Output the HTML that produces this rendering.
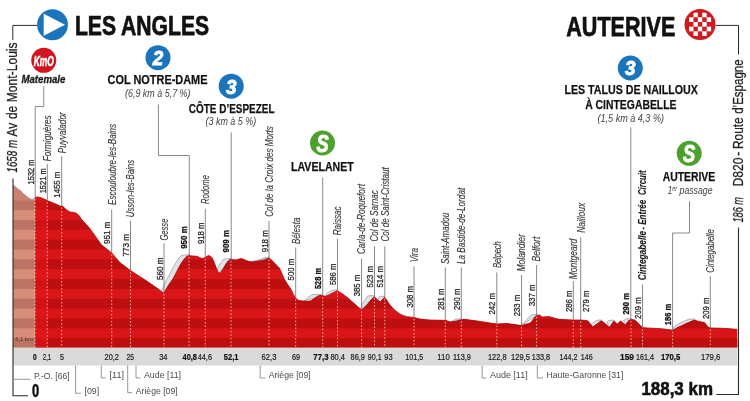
<!DOCTYPE html>
<html lang="fr">
<head>
<meta charset="utf-8">
<title>Les Angles – Auterive : profil de l’étape (188,3 km)</title>
<style>
html,body{margin:0;padding:0;background:#fff;}
body{width:750px;height:401px;overflow:hidden;font-family:"Liberation Sans",sans-serif;}
svg{display:block;will-change:transform;}
</style>
</head>
<body>
<svg width="750" height="401" viewBox="0 0 750 401">
<defs>
<clipPath id="cn"><polygon points="13.0,185.0 15.0,186.6 18.0,189.0 21.5,191.5 22.5,193.0 25.0,195.0 28.0,197.5 31.0,199.2 32.7,199.7 34.0,198.4 35.0,197.4 35,347.5 13,347.5"/></clipPath>
<clipPath id="cp"><polygon points="35.0,197.4 37.0,197.0 40.0,197.4 43.0,198.6 47.3,200.6 52.0,202.6 57.0,204.6 60.5,206.3 61.7,205.8 63.0,206.6 66.0,209.5 70.0,212.0 73.0,212.3 76.0,213.0 79.0,215.5 82.0,220.0 89.0,227.5 93.3,233.3 101.3,244.7 111.7,252.9 120.0,262.7 130.5,270.6 146.7,281.0 158.7,289.3 163.6,293.3 168.0,286.0 173.3,278.3 178.7,267.7 182.0,262.0 185.3,257.7 187.0,256.2 188.9,255.6 193.0,256.0 197.3,256.3 199.5,257.4 201.3,258.3 203.5,258.2 205.3,257.5 207.0,256.2 208.7,255.6 210.5,256.2 212.3,258.0 214.0,262.0 216.0,267.2 217.7,271.3 219.3,273.3 221.0,271.8 223.3,268.5 225.3,265.0 227.3,262.0 229.0,260.2 231.0,259.3 233.5,259.7 236.0,260.0 239.0,259.0 241.3,258.4 244.0,259.6 246.7,260.7 249.5,261.6 252.0,262.0 255.5,261.6 258.7,261.0 261.5,260.6 264.0,260.0 266.7,259.0 269.0,258.0 271.0,259.5 274.7,263.3 279.3,268.0 281.5,272.5 284.0,278.7 287.5,284.3 291.3,290.0 293.5,294.5 295.7,298.0 297.5,299.7 300.0,300.7 303.5,301.0 306.7,301.2 309.5,301.1 311.3,300.5 313.5,299.0 316.0,297.3 318.0,296.0 320.0,295.3 322.7,295.7 324.8,296.0 326.7,296.0 329.3,294.8 332.0,293.3 334.7,292.0 337.4,290.7 340.0,292.3 342.7,294.0 345.3,296.0 348.0,298.0 351.3,301.0 354.7,304.0 358.0,307.0 361.6,309.7 364.0,307.8 366.7,305.3 369.3,302.0 372.0,298.7 374.3,296.7 376.7,299.0 378.5,300.8 380.0,302.0 381.6,300.6 383.2,298.6 384.7,297.3 386.6,299.8 388.7,303.3 391.0,306.2 393.3,308.7 396.6,311.6 400.0,314.0 403.3,315.6 406.7,316.7 410.3,317.1 414.0,317.4 417.0,318.3 420.0,319.0 424.5,319.6 429.3,320.0 437.0,320.2 445.3,320.3 448.0,321.2 450.7,322.0 453.5,321.6 456.0,321.2 458.5,320.4 461.3,319.7 464.0,319.3 472.0,320.3 480.0,321.4 488.0,322.7 496.7,324.0 501.5,323.8 506.7,323.4 510.5,324.0 514.7,324.6 518.0,325.0 521.6,325.5 526.0,324.2 530.3,323.0 532.0,321.0 533.5,319.0 535.0,316.9 536.6,315.4 539.3,315.0 541.0,316.0 542.7,317.0 546.0,316.8 549.3,316.6 554.0,318.0 558.7,319.3 566.0,319.7 573.3,320.0 580.7,320.0 584.5,320.3 588.0,321.0 590.4,324.0 592.7,327.0 597.0,324.0 601.3,320.8 603.3,322.0 605.3,323.7 607.3,325.6 609.3,327.6 611.6,324.4 614.0,321.0 615.7,322.4 617.3,324.0 619.0,322.4 620.7,321.0 623.0,323.0 625.3,325.0 627.0,322.8 628.7,320.6 631.3,319.4 634.7,320.0 636.7,321.7 638.7,323.7 640.7,325.8 642.7,327.7 648.0,328.0 653.3,328.3 658.5,328.6 664.0,329.0 668.4,329.5 672.7,330.2 675.5,328.6 678.7,327.0 682.3,325.4 686.0,323.6 690.3,321.8 694.7,320.0 696.7,320.8 698.7,321.6 701.4,321.9 704.0,322.2 705.7,324.0 707.3,326.3 708.6,327.3 710.5,328.0 716.6,328.1 723.3,328.3 730.6,328.8 737.3,329.4 737.3,347.5 35,347.5"/></clipPath>
</defs>
<rect width="750" height="401" fill="#ffffff"/>
<rect x="13" y="347.5" width="724.3" height="18.0" fill="#dadada"/>
<polygon points="163.6,293.3 161.6,290.6 165.5,282.0 170.0,273.7 176.0,262.3 178.8,258.2 181.3,255.4 188.9,254.6 188.9,255.6" fill="#e0e2e4" stroke="#98a0a8" stroke-width="0.75" stroke-linejoin="round"/>
<polygon points="219.3,273.3 217.6,270.0 218.4,266.4 221.0,262.5 224.0,259.0 231.0,258.4 231.0,259.3" fill="#e0e2e4" stroke="#98a0a8" stroke-width="0.75" stroke-linejoin="round"/>
<polygon points="250.0,261.8 255.0,261.0 261.3,259.1 264.5,257.6 269.0,257.0 269.0,258.0" fill="#e0e2e4" stroke="#98a0a8" stroke-width="0.75" stroke-linejoin="round"/>
<polygon points="303.5,301.0 306.0,299.3 309.0,296.8 312.0,294.7 315.0,294.3 322.7,294.6 322.7,295.7" fill="#e0e2e4" stroke="#98a0a8" stroke-width="0.75" stroke-linejoin="round"/>
<polygon points="326.7,296.0 326.0,294.0 329.0,292.0 332.0,290.3 337.4,289.7 337.4,290.7" fill="#e0e2e4" stroke="#98a0a8" stroke-width="0.75" stroke-linejoin="round"/>
<polygon points="361.6,309.7 361.4,306.5 362.4,304.2 364.7,300.3 367.3,296.6 369.0,295.7 374.3,295.7 374.3,296.7" fill="#e0e2e4" stroke="#98a0a8" stroke-width="0.75" stroke-linejoin="round"/>
<polygon points="380.0,302.0 378.4,299.4 378.7,297.3 380.0,296.4 384.7,296.3 384.7,297.3" fill="#e0e2e4" stroke="#98a0a8" stroke-width="0.75" stroke-linejoin="round"/>
<polygon points="450.7,322.0 453.0,320.6 456.0,319.2 461.3,318.8 461.3,319.7" fill="#e0e2e4" stroke="#98a0a8" stroke-width="0.75" stroke-linejoin="round"/>
<polygon points="521.6,325.5 522.4,324.0 523.6,323.2 527.0,319.4 530.7,315.6 532.0,314.7 536.6,314.4 536.6,315.4" fill="#e0e2e4" stroke="#98a0a8" stroke-width="0.75" stroke-linejoin="round"/>
<polygon points="592.7,327.0 591.5,324.7 592.2,323.5 594.7,321.7 597.3,320.2 601.3,319.9 601.3,320.8" fill="#e0e2e4" stroke="#98a0a8" stroke-width="0.75" stroke-linejoin="round"/>
<polygon points="609.3,327.6 607.6,324.0 607.3,321.6 609.0,320.4 614.0,320.1 614.0,321.0" fill="#e0e2e4" stroke="#98a0a8" stroke-width="0.75" stroke-linejoin="round"/>
<polygon points="625.3,325.0 623.7,322.0 624.0,320.2 626.5,318.8 631.3,318.5 631.3,319.4" fill="#e0e2e4" stroke="#98a0a8" stroke-width="0.75" stroke-linejoin="round"/>
<polygon points="672.7,330.2 672.9,328.0 674.0,326.8 680.0,323.1 686.0,320.3 689.3,319.1 694.7,319.0 694.7,320.0" fill="#e0e2e4" stroke="#98a0a8" stroke-width="0.75" stroke-linejoin="round"/>
<g clip-path="url(#cn)">
<rect x="13" y="170" width="22" height="177.5" fill="#d78d78"/>
<rect x="13" y="338.15" width="22" height="9.85" fill="#bc7363"/>
<rect x="13" y="318.45" width="22" height="9.85" fill="#bc7363"/>
<rect x="13" y="298.75" width="22" height="9.85" fill="#bc7363"/>
<rect x="13" y="279.05" width="22" height="9.85" fill="#bc7363"/>
<rect x="13" y="259.35" width="22" height="9.85" fill="#bc7363"/>
<rect x="13" y="239.65" width="22" height="9.85" fill="#bc7363"/>
<rect x="13" y="219.95" width="22" height="9.85" fill="#bc7363"/>
<rect x="13" y="200.25" width="22" height="9.85" fill="#bc7363"/>
<rect x="13" y="180.55" width="22" height="9.85" fill="#bc7363"/>
<rect x="13" y="170" width="22" height="30.25" fill="#cb836f"/>
</g>
<g clip-path="url(#cp)">
<rect x="35" y="170" width="703.3" height="177.5" fill="#d91518"/>
<rect x="35" y="338.15" width="703.3" height="9.85" fill="#bd0f10"/>
<rect x="35" y="318.45" width="703.3" height="9.85" fill="#bd0f10"/>
<rect x="35" y="298.75" width="703.3" height="9.85" fill="#bd0f10"/>
<rect x="35" y="279.05" width="703.3" height="9.85" fill="#bd0f10"/>
<rect x="35" y="259.35" width="703.3" height="9.85" fill="#bd0f10"/>
<rect x="35" y="239.65" width="703.3" height="9.85" fill="#bd0f10"/>
<rect x="35" y="219.95" width="703.3" height="9.85" fill="#bd0f10"/>
<rect x="35" y="200.25" width="703.3" height="9.85" fill="#bd0f10"/>
<rect x="35" y="180.55" width="703.3" height="9.85" fill="#bd0f10"/>
</g>
<rect x="35" y="190" width="12.3" height="157.5" fill="#e2171b" opacity="0.55" clip-path="url(#cp)"/>
<polyline points="13.0,185.0 15.0,186.6 18.0,189.0 21.5,191.5 22.5,193.0 25.0,195.0 28.0,197.5 31.0,199.2 32.7,199.7 34.0,198.4 35.0,197.4" fill="none" stroke="#9a9a9a" stroke-width="0.8"/>
<polyline points="35.0,197.4 37.0,197.0 40.0,197.4 43.0,198.6 47.3,200.6 52.0,202.6 57.0,204.6 60.5,206.3 61.7,205.8 63.0,206.6 66.0,209.5 70.0,212.0 73.0,212.3 76.0,213.0 79.0,215.5 82.0,220.0 89.0,227.5 93.3,233.3 101.3,244.7 111.7,252.9 120.0,262.7 130.5,270.6 146.7,281.0 158.7,289.3 163.6,293.3 168.0,286.0 173.3,278.3 178.7,267.7 182.0,262.0 185.3,257.7 187.0,256.2 188.9,255.6 193.0,256.0 197.3,256.3 199.5,257.4 201.3,258.3 203.5,258.2 205.3,257.5 207.0,256.2 208.7,255.6 210.5,256.2 212.3,258.0 214.0,262.0 216.0,267.2 217.7,271.3 219.3,273.3 221.0,271.8 223.3,268.5 225.3,265.0 227.3,262.0 229.0,260.2 231.0,259.3 233.5,259.7 236.0,260.0 239.0,259.0 241.3,258.4 244.0,259.6 246.7,260.7 249.5,261.6 252.0,262.0 255.5,261.6 258.7,261.0 261.5,260.6 264.0,260.0 266.7,259.0 269.0,258.0 271.0,259.5 274.7,263.3 279.3,268.0 281.5,272.5 284.0,278.7 287.5,284.3 291.3,290.0 293.5,294.5 295.7,298.0 297.5,299.7 300.0,300.7 303.5,301.0 306.7,301.2 309.5,301.1 311.3,300.5 313.5,299.0 316.0,297.3 318.0,296.0 320.0,295.3 322.7,295.7 324.8,296.0 326.7,296.0 329.3,294.8 332.0,293.3 334.7,292.0 337.4,290.7 340.0,292.3 342.7,294.0 345.3,296.0 348.0,298.0 351.3,301.0 354.7,304.0 358.0,307.0 361.6,309.7 364.0,307.8 366.7,305.3 369.3,302.0 372.0,298.7 374.3,296.7 376.7,299.0 378.5,300.8 380.0,302.0 381.6,300.6 383.2,298.6 384.7,297.3 386.6,299.8 388.7,303.3 391.0,306.2 393.3,308.7 396.6,311.6 400.0,314.0 403.3,315.6 406.7,316.7 410.3,317.1 414.0,317.4 417.0,318.3 420.0,319.0 424.5,319.6 429.3,320.0 437.0,320.2 445.3,320.3 448.0,321.2 450.7,322.0 453.5,321.6 456.0,321.2 458.5,320.4 461.3,319.7 464.0,319.3 472.0,320.3 480.0,321.4 488.0,322.7 496.7,324.0 501.5,323.8 506.7,323.4 510.5,324.0 514.7,324.6 518.0,325.0 521.6,325.5 526.0,324.2 530.3,323.0 532.0,321.0 533.5,319.0 535.0,316.9 536.6,315.4 539.3,315.0 541.0,316.0 542.7,317.0 546.0,316.8 549.3,316.6 554.0,318.0 558.7,319.3 566.0,319.7 573.3,320.0 580.7,320.0 584.5,320.3 588.0,321.0 590.4,324.0 592.7,327.0 597.0,324.0 601.3,320.8 603.3,322.0 605.3,323.7 607.3,325.6 609.3,327.6 611.6,324.4 614.0,321.0 615.7,322.4 617.3,324.0 619.0,322.4 620.7,321.0 623.0,323.0 625.3,325.0 627.0,322.8 628.7,320.6 631.3,319.4 634.7,320.0 636.7,321.7 638.7,323.7 640.7,325.8 642.7,327.7 648.0,328.0 653.3,328.3 658.5,328.6 664.0,329.0 668.4,329.5 672.7,330.2 675.5,328.6 678.7,327.0 682.3,325.4 686.0,323.6 690.3,321.8 694.7,320.0 696.7,320.8 698.7,321.6 701.4,321.9 704.0,322.2 705.7,324.0 707.3,326.3 708.6,327.3 710.5,328.0 716.6,328.1 723.3,328.3 730.6,328.8 737.3,329.4" fill="none" stroke="#b00d0e" stroke-width="0.8"/>
<text x="24" y="341.3" font-family="'Liberation Sans', sans-serif" font-size="5.6" fill="#4e342d" text-anchor="middle" textLength="17.5" lengthAdjust="spacingAndGlyphs">6,1 km</text>
<line x1="35.0" y1="198.9" x2="35.0" y2="347.5" stroke="#ffd9d0" stroke-width="0.9" stroke-dasharray="1.6,1.9" opacity="0.85"/>
<line x1="47.3" y1="202.1" x2="47.3" y2="347.5" stroke="#ffd9d0" stroke-width="0.9" stroke-dasharray="1.6,1.9" opacity="0.85"/>
<line x1="61.7" y1="207.5" x2="61.7" y2="347.5" stroke="#ffd9d0" stroke-width="0.9" stroke-dasharray="1.6,1.9" opacity="0.85"/>
<line x1="111.7" y1="254.4" x2="111.7" y2="347.5" stroke="#ffd9d0" stroke-width="0.9" stroke-dasharray="1.6,1.9" opacity="0.85"/>
<line x1="130.5" y1="272.1" x2="130.5" y2="347.5" stroke="#ffd9d0" stroke-width="0.9" stroke-dasharray="1.6,1.9" opacity="0.85"/>
<line x1="164.0" y1="294.0" x2="164.0" y2="347.5" stroke="#ffd9d0" stroke-width="0.9" stroke-dasharray="1.6,1.9" opacity="0.85"/>
<line x1="189.0" y1="257.1" x2="189.0" y2="347.5" stroke="#ffd9d0" stroke-width="0.9" stroke-dasharray="1.6,1.9" opacity="0.85"/>
<line x1="205.3" y1="259.0" x2="205.3" y2="347.5" stroke="#ffd9d0" stroke-width="0.9" stroke-dasharray="1.6,1.9" opacity="0.85"/>
<line x1="231.0" y1="260.8" x2="231.0" y2="347.5" stroke="#ffd9d0" stroke-width="0.9" stroke-dasharray="1.6,1.9" opacity="0.85"/>
<line x1="269.0" y1="259.5" x2="269.0" y2="347.5" stroke="#ffd9d0" stroke-width="0.9" stroke-dasharray="1.6,1.9" opacity="0.85"/>
<line x1="295.7" y1="299.5" x2="295.7" y2="347.5" stroke="#ffd9d0" stroke-width="0.9" stroke-dasharray="1.6,1.9" opacity="0.85"/>
<line x1="322.7" y1="297.2" x2="322.7" y2="347.5" stroke="#ffd9d0" stroke-width="0.9" stroke-dasharray="1.6,1.9" opacity="0.85"/>
<line x1="337.5" y1="292.2" x2="337.5" y2="347.5" stroke="#ffd9d0" stroke-width="0.9" stroke-dasharray="1.6,1.9" opacity="0.85"/>
<line x1="361.6" y1="311.2" x2="361.6" y2="347.5" stroke="#ffd9d0" stroke-width="0.9" stroke-dasharray="1.6,1.9" opacity="0.85"/>
<line x1="374.5" y1="298.2" x2="374.5" y2="347.5" stroke="#ffd9d0" stroke-width="0.9" stroke-dasharray="1.6,1.9" opacity="0.85"/>
<line x1="384.8" y1="298.8" x2="384.8" y2="347.5" stroke="#ffd9d0" stroke-width="0.9" stroke-dasharray="1.6,1.9" opacity="0.85"/>
<line x1="414.0" y1="318.9" x2="414.0" y2="347.5" stroke="#ffd9d0" stroke-width="0.9" stroke-dasharray="1.6,1.9" opacity="0.85"/>
<line x1="445.3" y1="321.8" x2="445.3" y2="347.5" stroke="#ffd9d0" stroke-width="0.9" stroke-dasharray="1.6,1.9" opacity="0.85"/>
<line x1="461.3" y1="321.2" x2="461.3" y2="347.5" stroke="#ffd9d0" stroke-width="0.9" stroke-dasharray="1.6,1.9" opacity="0.85"/>
<line x1="496.8" y1="325.5" x2="496.8" y2="347.5" stroke="#ffd9d0" stroke-width="0.9" stroke-dasharray="1.6,1.9" opacity="0.85"/>
<line x1="521.6" y1="327.0" x2="521.6" y2="347.5" stroke="#ffd9d0" stroke-width="0.9" stroke-dasharray="1.6,1.9" opacity="0.85"/>
<line x1="536.6" y1="316.9" x2="536.6" y2="347.5" stroke="#ffd9d0" stroke-width="0.9" stroke-dasharray="1.6,1.9" opacity="0.85"/>
<line x1="573.3" y1="321.5" x2="573.3" y2="347.5" stroke="#ffd9d0" stroke-width="0.9" stroke-dasharray="1.6,1.9" opacity="0.85"/>
<line x1="580.7" y1="321.5" x2="580.7" y2="347.5" stroke="#ffd9d0" stroke-width="0.9" stroke-dasharray="1.6,1.9" opacity="0.85"/>
<line x1="631.0" y1="320.9" x2="631.0" y2="347.5" stroke="#ffd9d0" stroke-width="0.9" stroke-dasharray="1.6,1.9" opacity="0.85"/>
<line x1="642.5" y1="329.2" x2="642.5" y2="347.5" stroke="#ffd9d0" stroke-width="0.9" stroke-dasharray="1.6,1.9" opacity="0.85"/>
<line x1="672.7" y1="331.7" x2="672.7" y2="347.5" stroke="#ffd9d0" stroke-width="0.9" stroke-dasharray="1.6,1.9" opacity="0.85"/>
<line x1="710.3" y1="329.5" x2="710.3" y2="347.5" stroke="#ffd9d0" stroke-width="0.9" stroke-dasharray="1.6,1.9" opacity="0.85"/>
<polyline points="47.3,164.0 47.3,200.6" fill="none" stroke="#7a7a7a" stroke-width="0.9"/>
<polyline points="61.7,156.0 61.7,206.0" fill="none" stroke="#7a7a7a" stroke-width="0.9"/>
<polyline points="111.7,209.5 111.7,252.9" fill="none" stroke="#7a7a7a" stroke-width="0.9"/>
<polyline points="130.5,220.8 130.5,270.6" fill="none" stroke="#7a7a7a" stroke-width="0.9"/>
<polyline points="164.0,243.2 164.0,292.5" fill="none" stroke="#7a7a7a" stroke-width="0.9"/>
<polyline points="205.3,208.8 205.3,257.5" fill="none" stroke="#7a7a7a" stroke-width="0.9"/>
<polyline points="269.0,221.0 269.0,258.0" fill="none" stroke="#7a7a7a" stroke-width="0.9"/>
<polyline points="295.7,247.5 295.7,298.0" fill="none" stroke="#7a7a7a" stroke-width="0.9"/>
<polyline points="337.5,238.8 337.5,290.7" fill="none" stroke="#7a7a7a" stroke-width="0.9"/>
<polyline points="361.6,258.8 361.6,309.7" fill="none" stroke="#7a7a7a" stroke-width="0.9"/>
<polyline points="374.5,246.3 374.5,296.7" fill="none" stroke="#7a7a7a" stroke-width="0.9"/>
<polyline points="384.8,246.3 384.8,297.3" fill="none" stroke="#7a7a7a" stroke-width="0.9"/>
<polyline points="414.0,266.3 414.0,317.4" fill="none" stroke="#7a7a7a" stroke-width="0.9"/>
<polyline points="445.3,267.5 445.3,320.3" fill="none" stroke="#7a7a7a" stroke-width="0.9"/>
<polyline points="461.3,267.5 461.3,319.7" fill="none" stroke="#7a7a7a" stroke-width="0.9"/>
<polyline points="496.8,272.5 496.8,324.0" fill="none" stroke="#7a7a7a" stroke-width="0.9"/>
<polyline points="521.6,275.0 521.6,325.5" fill="none" stroke="#7a7a7a" stroke-width="0.9"/>
<polyline points="536.6,265.0 536.6,315.4" fill="none" stroke="#7a7a7a" stroke-width="0.9"/>
<polyline points="573.3,281.0 573.3,320.0" fill="none" stroke="#7a7a7a" stroke-width="0.9"/>
<polyline points="580.7,237.5 580.7,320.0" fill="none" stroke="#7a7a7a" stroke-width="0.9"/>
<polyline points="642.5,284.5 642.5,327.7" fill="none" stroke="#7a7a7a" stroke-width="0.9"/>
<polyline points="710.3,276.3 710.3,328.0" fill="none" stroke="#7a7a7a" stroke-width="0.9"/>
<polyline points="43.8,86.3 43.8,106.6 35.2,106.6 35.2,197.4" fill="none" stroke="#7a7a7a" stroke-width="0.9"/>
<polyline points="158.4,104.5 158.4,155.5 189.3,155.5 189.3,255.6" fill="none" stroke="#7a7a7a" stroke-width="0.9"/>
<polyline points="231.2,132.5 231.2,259.3" fill="none" stroke="#7a7a7a" stroke-width="0.9"/>
<polyline points="322.7,177.5 322.7,295.7" fill="none" stroke="#7a7a7a" stroke-width="0.9"/>
<polyline points="630.8,127.5 630.8,319.4" fill="none" stroke="#7a7a7a" stroke-width="0.9"/>
<polyline points="689.5,201.2 689.5,233.0 672.6,233.0 672.6,330.2" fill="none" stroke="#7a7a7a" stroke-width="0.9"/>
<text transform="translate(33.6,184.4) rotate(-90)" font-family="'Liberation Sans', sans-serif" font-size="8.5" font-weight="normal" font-style="normal" fill="#262626" text-anchor="start" textLength="25.0" lengthAdjust="spacingAndGlyphs" stroke="#262626" stroke-width="0.26">1532 m</text>
<text x="33.0" y="359.7" font-family="'Liberation Sans', sans-serif" font-size="9.5" font-weight="bold" font-style="normal" fill="#111" text-anchor="start" textLength="3.7" lengthAdjust="spacingAndGlyphs" stroke="#111" stroke-width="0.22">0</text>
<text transform="translate(45.9,193.3) rotate(-90)" font-family="'Liberation Sans', sans-serif" font-size="8.5" font-weight="normal" font-style="normal" fill="#262626" text-anchor="start" textLength="25.0" lengthAdjust="spacingAndGlyphs" stroke="#262626" stroke-width="0.26">1521 m</text>
<text transform="translate(51.1,161.3) rotate(-90)" font-family="'Liberation Sans', sans-serif" font-size="11" font-weight="normal" font-style="italic" fill="#363636" text-anchor="start" textLength="46.0" lengthAdjust="spacingAndGlyphs" stroke="#363636" stroke-width="0.12">Formiguères</text>
<text x="42.7" y="359.7" font-family="'Liberation Sans', sans-serif" font-size="9.5" font-weight="normal" font-style="normal" fill="#222" text-anchor="start" textLength="8.6" lengthAdjust="spacingAndGlyphs" stroke="#222" stroke-width="0.22">2,1</text>
<text transform="translate(60.3,197.7) rotate(-90)" font-family="'Liberation Sans', sans-serif" font-size="8.5" font-weight="normal" font-style="normal" fill="#262626" text-anchor="start" textLength="26.0" lengthAdjust="spacingAndGlyphs" stroke="#262626" stroke-width="0.26">1455 m</text>
<text transform="translate(65.5,153.3) rotate(-90)" font-family="'Liberation Sans', sans-serif" font-size="11" font-weight="normal" font-style="italic" fill="#363636" text-anchor="start" textLength="41.0" lengthAdjust="spacingAndGlyphs" stroke="#363636" stroke-width="0.12">Puyvalador</text>
<text x="60.0" y="359.7" font-family="'Liberation Sans', sans-serif" font-size="9.5" font-weight="normal" font-style="normal" fill="#222" text-anchor="start" textLength="4.0" lengthAdjust="spacingAndGlyphs" stroke="#222" stroke-width="0.22">5</text>
<text transform="translate(110.3,244.0) rotate(-90)" font-family="'Liberation Sans', sans-serif" font-size="8.5" font-weight="normal" font-style="normal" fill="#262626" text-anchor="start" textLength="22.3" lengthAdjust="spacingAndGlyphs" stroke="#262626" stroke-width="0.26">951 m</text>
<text transform="translate(115.5,204.9) rotate(-90)" font-family="'Liberation Sans', sans-serif" font-size="11" font-weight="normal" font-style="italic" fill="#363636" text-anchor="start" textLength="81.0" lengthAdjust="spacingAndGlyphs" stroke="#363636" stroke-width="0.12">Escouloubre-les-Bains</text>
<text x="104.5" y="359.7" font-family="'Liberation Sans', sans-serif" font-size="9.5" font-weight="normal" font-style="normal" fill="#222" text-anchor="start" textLength="14.5" lengthAdjust="spacingAndGlyphs" stroke="#222" stroke-width="0.22">20,2</text>
<text transform="translate(129.1,256.5) rotate(-90)" font-family="'Liberation Sans', sans-serif" font-size="8.5" font-weight="normal" font-style="normal" fill="#262626" text-anchor="start" textLength="22.5" lengthAdjust="spacingAndGlyphs" stroke="#262626" stroke-width="0.26">773 m</text>
<text transform="translate(134.3,217.3) rotate(-90)" font-family="'Liberation Sans', sans-serif" font-size="11" font-weight="normal" font-style="italic" fill="#363636" text-anchor="start" textLength="57.5" lengthAdjust="spacingAndGlyphs" stroke="#363636" stroke-width="0.12">Usson-les-Bains</text>
<text x="126.4" y="359.7" font-family="'Liberation Sans', sans-serif" font-size="9.5" font-weight="normal" font-style="normal" fill="#222" text-anchor="start" textLength="7.6" lengthAdjust="spacingAndGlyphs" stroke="#222" stroke-width="0.22">25</text>
<text transform="translate(162.6,280.0) rotate(-90)" font-family="'Liberation Sans', sans-serif" font-size="8.5" font-weight="normal" font-style="normal" fill="#262626" text-anchor="start" textLength="22.5" lengthAdjust="spacingAndGlyphs" stroke="#262626" stroke-width="0.26">560 m</text>
<text transform="translate(167.8,240.6) rotate(-90)" font-family="'Liberation Sans', sans-serif" font-size="11" font-weight="normal" font-style="italic" fill="#363636" text-anchor="start" textLength="22.0" lengthAdjust="spacingAndGlyphs" stroke="#363636" stroke-width="0.12">Gesse</text>
<text x="159.2" y="359.7" font-family="'Liberation Sans', sans-serif" font-size="9.5" font-weight="normal" font-style="normal" fill="#222" text-anchor="start" textLength="8.3" lengthAdjust="spacingAndGlyphs" stroke="#222" stroke-width="0.22">34</text>
<text transform="translate(187.0,248.8) rotate(-90)" font-family="'Liberation Sans', sans-serif" font-size="8.5" font-weight="bold" font-style="normal" fill="#111" text-anchor="start" textLength="22.5" lengthAdjust="spacingAndGlyphs" stroke="#111" stroke-width="0.26">950 m</text>
<text x="182.6" y="359.7" font-family="'Liberation Sans', sans-serif" font-size="9.5" font-weight="bold" font-style="normal" fill="#111" text-anchor="start" textLength="14.4" lengthAdjust="spacingAndGlyphs" stroke="#111" stroke-width="0.22">40,8</text>
<text transform="translate(203.9,244.0) rotate(-90)" font-family="'Liberation Sans', sans-serif" font-size="8.5" font-weight="normal" font-style="normal" fill="#262626" text-anchor="start" textLength="21.5" lengthAdjust="spacingAndGlyphs" stroke="#262626" stroke-width="0.26">918 m</text>
<text transform="translate(209.1,204.1) rotate(-90)" font-family="'Liberation Sans', sans-serif" font-size="11" font-weight="normal" font-style="italic" fill="#363636" text-anchor="start" textLength="29.0" lengthAdjust="spacingAndGlyphs" stroke="#363636" stroke-width="0.12">Rodome</text>
<text x="197.7" y="359.7" font-family="'Liberation Sans', sans-serif" font-size="9.5" font-weight="normal" font-style="normal" fill="#222" text-anchor="start" textLength="14.3" lengthAdjust="spacingAndGlyphs" stroke="#222" stroke-width="0.22">44,6</text>
<text transform="translate(229.0,252.5) rotate(-90)" font-family="'Liberation Sans', sans-serif" font-size="8.5" font-weight="bold" font-style="normal" fill="#111" text-anchor="start" textLength="22.5" lengthAdjust="spacingAndGlyphs" stroke="#111" stroke-width="0.26">909 m</text>
<text x="223.8" y="359.7" font-family="'Liberation Sans', sans-serif" font-size="9.5" font-weight="bold" font-style="normal" fill="#111" text-anchor="start" textLength="14.6" lengthAdjust="spacingAndGlyphs" stroke="#111" stroke-width="0.22">52,1</text>
<text transform="translate(267.6,252.2) rotate(-90)" font-family="'Liberation Sans', sans-serif" font-size="8.5" font-weight="normal" font-style="normal" fill="#262626" text-anchor="start" textLength="22.0" lengthAdjust="spacingAndGlyphs" stroke="#262626" stroke-width="0.26">918 m</text>
<text transform="translate(272.8,216.8) rotate(-90)" font-family="'Liberation Sans', sans-serif" font-size="11" font-weight="normal" font-style="italic" fill="#363636" text-anchor="start" textLength="90.7" lengthAdjust="spacingAndGlyphs" stroke="#363636" stroke-width="0.12">Col de la Croix des Morts</text>
<text x="261.6" y="359.7" font-family="'Liberation Sans', sans-serif" font-size="9.5" font-weight="normal" font-style="normal" fill="#222" text-anchor="start" textLength="14.8" lengthAdjust="spacingAndGlyphs" stroke="#222" stroke-width="0.22">62,3</text>
<text transform="translate(294.3,280.4) rotate(-90)" font-family="'Liberation Sans', sans-serif" font-size="8.5" font-weight="normal" font-style="normal" fill="#262626" text-anchor="start" textLength="21.5" lengthAdjust="spacingAndGlyphs" stroke="#262626" stroke-width="0.26">500 m</text>
<text transform="translate(299.5,244.1) rotate(-90)" font-family="'Liberation Sans', sans-serif" font-size="11" font-weight="normal" font-style="italic" fill="#363636" text-anchor="start" textLength="26.5" lengthAdjust="spacingAndGlyphs" stroke="#363636" stroke-width="0.12">Bélesta</text>
<text x="291.9" y="359.7" font-family="'Liberation Sans', sans-serif" font-size="9.5" font-weight="normal" font-style="normal" fill="#222" text-anchor="start" textLength="8.1" lengthAdjust="spacingAndGlyphs" stroke="#222" stroke-width="0.22">69</text>
<text transform="translate(320.7,289.0) rotate(-90)" font-family="'Liberation Sans', sans-serif" font-size="8.5" font-weight="bold" font-style="normal" fill="#111" text-anchor="start" textLength="21.0" lengthAdjust="spacingAndGlyphs" stroke="#111" stroke-width="0.26">528 m</text>
<text x="313.3" y="359.7" font-family="'Liberation Sans', sans-serif" font-size="9.5" font-weight="bold" font-style="normal" fill="#111" text-anchor="start" textLength="15.2" lengthAdjust="spacingAndGlyphs" stroke="#111" stroke-width="0.22">77,3</text>
<text transform="translate(336.1,285.0) rotate(-90)" font-family="'Liberation Sans', sans-serif" font-size="8.5" font-weight="normal" font-style="normal" fill="#262626" text-anchor="start" textLength="21.5" lengthAdjust="spacingAndGlyphs" stroke="#262626" stroke-width="0.26">586 m</text>
<text transform="translate(341.3,235.3) rotate(-90)" font-family="'Liberation Sans', sans-serif" font-size="11" font-weight="normal" font-style="italic" fill="#363636" text-anchor="start" textLength="29.0" lengthAdjust="spacingAndGlyphs" stroke="#363636" stroke-width="0.12">Raissac</text>
<text x="330.4" y="359.7" font-family="'Liberation Sans', sans-serif" font-size="9.5" font-weight="normal" font-style="normal" fill="#222" text-anchor="start" textLength="14.6" lengthAdjust="spacingAndGlyphs" stroke="#222" stroke-width="0.22">80,4</text>
<text transform="translate(360.2,296.3) rotate(-90)" font-family="'Liberation Sans', sans-serif" font-size="8.5" font-weight="normal" font-style="normal" fill="#262626" text-anchor="start" textLength="21.5" lengthAdjust="spacingAndGlyphs" stroke="#262626" stroke-width="0.26">385 m</text>
<text transform="translate(365.4,254.1) rotate(-90)" font-family="'Liberation Sans', sans-serif" font-size="11" font-weight="normal" font-style="italic" fill="#363636" text-anchor="start" textLength="70.0" lengthAdjust="spacingAndGlyphs" stroke="#363636" stroke-width="0.12">Carla-de-Roquefort</text>
<text x="350.6" y="359.7" font-family="'Liberation Sans', sans-serif" font-size="9.5" font-weight="normal" font-style="normal" fill="#222" text-anchor="start" textLength="14.4" lengthAdjust="spacingAndGlyphs" stroke="#222" stroke-width="0.22">86,9</text>
<text transform="translate(373.1,287.5) rotate(-90)" font-family="'Liberation Sans', sans-serif" font-size="8.5" font-weight="normal" font-style="normal" fill="#262626" text-anchor="start" textLength="21.5" lengthAdjust="spacingAndGlyphs" stroke="#262626" stroke-width="0.26">523 m</text>
<text transform="translate(378.3,241.6) rotate(-90)" font-family="'Liberation Sans', sans-serif" font-size="11" font-weight="normal" font-style="italic" fill="#363636" text-anchor="start" textLength="51.3" lengthAdjust="spacingAndGlyphs" stroke="#363636" stroke-width="0.12">Col de Sarnac</text>
<text x="367.8" y="359.7" font-family="'Liberation Sans', sans-serif" font-size="9.5" font-weight="normal" font-style="normal" fill="#222" text-anchor="start" textLength="13.8" lengthAdjust="spacingAndGlyphs" stroke="#222" stroke-width="0.22">90,1</text>
<text transform="translate(383.4,287.5) rotate(-90)" font-family="'Liberation Sans', sans-serif" font-size="8.5" font-weight="normal" font-style="normal" fill="#262626" text-anchor="start" textLength="21.5" lengthAdjust="spacingAndGlyphs" stroke="#262626" stroke-width="0.26">514 m</text>
<text transform="translate(388.6,241.6) rotate(-90)" font-family="'Liberation Sans', sans-serif" font-size="11" font-weight="normal" font-style="italic" fill="#363636" text-anchor="start" textLength="74.3" lengthAdjust="spacingAndGlyphs" stroke="#363636" stroke-width="0.12">Col de Saint-Cristaut</text>
<text x="384.3" y="359.7" font-family="'Liberation Sans', sans-serif" font-size="9.5" font-weight="normal" font-style="normal" fill="#222" text-anchor="start" textLength="8.3" lengthAdjust="spacingAndGlyphs" stroke="#222" stroke-width="0.22">93</text>
<text transform="translate(412.6,307.5) rotate(-90)" font-family="'Liberation Sans', sans-serif" font-size="8.5" font-weight="normal" font-style="normal" fill="#262626" text-anchor="start" textLength="21.5" lengthAdjust="spacingAndGlyphs" stroke="#262626" stroke-width="0.26">308 m</text>
<text transform="translate(417.8,262.3) rotate(-90)" font-family="'Liberation Sans', sans-serif" font-size="11" font-weight="normal" font-style="italic" fill="#363636" text-anchor="start" textLength="14.5" lengthAdjust="spacingAndGlyphs" stroke="#363636" stroke-width="0.12">Vira</text>
<text x="405.2" y="359.7" font-family="'Liberation Sans', sans-serif" font-size="9.5" font-weight="normal" font-style="normal" fill="#222" text-anchor="start" textLength="18.0" lengthAdjust="spacingAndGlyphs" stroke="#222" stroke-width="0.22">101,5</text>
<text transform="translate(443.9,310.0) rotate(-90)" font-family="'Liberation Sans', sans-serif" font-size="8.5" font-weight="normal" font-style="normal" fill="#262626" text-anchor="start" textLength="21.5" lengthAdjust="spacingAndGlyphs" stroke="#262626" stroke-width="0.26">281 m</text>
<text transform="translate(449.1,264.1) rotate(-90)" font-family="'Liberation Sans', sans-serif" font-size="11" font-weight="normal" font-style="italic" fill="#363636" text-anchor="start" textLength="51.3" lengthAdjust="spacingAndGlyphs" stroke="#363636" stroke-width="0.12">Saint-Amadou</text>
<text x="437.3" y="359.7" font-family="'Liberation Sans', sans-serif" font-size="9.5" font-weight="normal" font-style="normal" fill="#222" text-anchor="start" textLength="12.5" lengthAdjust="spacingAndGlyphs" stroke="#222" stroke-width="0.22">110</text>
<text transform="translate(459.9,310.0) rotate(-90)" font-family="'Liberation Sans', sans-serif" font-size="8.5" font-weight="normal" font-style="normal" fill="#262626" text-anchor="start" textLength="21.5" lengthAdjust="spacingAndGlyphs" stroke="#262626" stroke-width="0.26">290 m</text>
<text transform="translate(465.1,264.1) rotate(-90)" font-family="'Liberation Sans', sans-serif" font-size="11" font-weight="normal" font-style="italic" fill="#363636" text-anchor="start" textLength="76.3" lengthAdjust="spacingAndGlyphs" stroke="#363636" stroke-width="0.12">La Bastide-de-Lordat</text>
<text x="453.0" y="359.7" font-family="'Liberation Sans', sans-serif" font-size="9.5" font-weight="normal" font-style="normal" fill="#222" text-anchor="start" textLength="18.0" lengthAdjust="spacingAndGlyphs" stroke="#222" stroke-width="0.22">113,9</text>
<text transform="translate(495.4,314.6) rotate(-90)" font-family="'Liberation Sans', sans-serif" font-size="8.5" font-weight="normal" font-style="normal" fill="#262626" text-anchor="start" textLength="21.5" lengthAdjust="spacingAndGlyphs" stroke="#262626" stroke-width="0.26">242 m</text>
<text transform="translate(500.6,267.8) rotate(-90)" font-family="'Liberation Sans', sans-serif" font-size="11" font-weight="normal" font-style="italic" fill="#363636" text-anchor="start" textLength="26.3" lengthAdjust="spacingAndGlyphs" stroke="#363636" stroke-width="0.12">Belpech</text>
<text x="488.0" y="359.7" font-family="'Liberation Sans', sans-serif" font-size="9.5" font-weight="normal" font-style="normal" fill="#222" text-anchor="start" textLength="18.5" lengthAdjust="spacingAndGlyphs" stroke="#222" stroke-width="0.22">122,8</text>
<text transform="translate(520.2,316.3) rotate(-90)" font-family="'Liberation Sans', sans-serif" font-size="8.5" font-weight="normal" font-style="normal" fill="#262626" text-anchor="start" textLength="21.5" lengthAdjust="spacingAndGlyphs" stroke="#262626" stroke-width="0.26">233 m</text>
<text transform="translate(525.4,271.6) rotate(-90)" font-family="'Liberation Sans', sans-serif" font-size="11" font-weight="normal" font-style="italic" fill="#363636" text-anchor="start" textLength="37.5" lengthAdjust="spacingAndGlyphs" stroke="#363636" stroke-width="0.12">Molandier</text>
<text x="511.0" y="359.7" font-family="'Liberation Sans', sans-serif" font-size="9.5" font-weight="normal" font-style="normal" fill="#222" text-anchor="start" textLength="18.9" lengthAdjust="spacingAndGlyphs" stroke="#222" stroke-width="0.22">129,5</text>
<text transform="translate(535.2,306.0) rotate(-90)" font-family="'Liberation Sans', sans-serif" font-size="8.5" font-weight="normal" font-style="normal" fill="#262626" text-anchor="start" textLength="21.5" lengthAdjust="spacingAndGlyphs" stroke="#262626" stroke-width="0.26">337 m</text>
<text transform="translate(540.4,261.6) rotate(-90)" font-family="'Liberation Sans', sans-serif" font-size="11" font-weight="normal" font-style="italic" fill="#363636" text-anchor="start" textLength="25.0" lengthAdjust="spacingAndGlyphs" stroke="#363636" stroke-width="0.12">Belfort</text>
<text x="531.8" y="359.7" font-family="'Liberation Sans', sans-serif" font-size="9.5" font-weight="normal" font-style="normal" fill="#222" text-anchor="start" textLength="18.4" lengthAdjust="spacingAndGlyphs" stroke="#222" stroke-width="0.22">133,8</text>
<text transform="translate(571.9,312.0) rotate(-90)" font-family="'Liberation Sans', sans-serif" font-size="8.5" font-weight="normal" font-style="normal" fill="#262626" text-anchor="start" textLength="21.5" lengthAdjust="spacingAndGlyphs" stroke="#262626" stroke-width="0.26">286 m</text>
<text transform="translate(577.1,279.3) rotate(-90)" font-family="'Liberation Sans', sans-serif" font-size="11" font-weight="normal" font-style="italic" fill="#363636" text-anchor="start" textLength="40.5" lengthAdjust="spacingAndGlyphs" stroke="#363636" stroke-width="0.12">Montgeard</text>
<text x="559.5" y="359.7" font-family="'Liberation Sans', sans-serif" font-size="9.5" font-weight="normal" font-style="normal" fill="#222" text-anchor="start" textLength="17.9" lengthAdjust="spacingAndGlyphs" stroke="#222" stroke-width="0.22">144,2</text>
<text transform="translate(588.8,312.0) rotate(-90)" font-family="'Liberation Sans', sans-serif" font-size="8.5" font-weight="normal" font-style="normal" fill="#262626" text-anchor="start" textLength="21.5" lengthAdjust="spacingAndGlyphs" stroke="#262626" stroke-width="0.26">279 m</text>
<text transform="translate(584.5,232.8) rotate(-90)" font-family="'Liberation Sans', sans-serif" font-size="11" font-weight="normal" font-style="italic" fill="#363636" text-anchor="start" textLength="30.0" lengthAdjust="spacingAndGlyphs" stroke="#363636" stroke-width="0.12">Nailloux</text>
<text x="580.8" y="359.7" font-family="'Liberation Sans', sans-serif" font-size="9.5" font-weight="normal" font-style="normal" fill="#222" text-anchor="start" textLength="11.8" lengthAdjust="spacingAndGlyphs" stroke="#222" stroke-width="0.22">146</text>
<text transform="translate(629.0,314.6) rotate(-90)" font-family="'Liberation Sans', sans-serif" font-size="8.5" font-weight="bold" font-style="normal" fill="#111" text-anchor="start" textLength="21.5" lengthAdjust="spacingAndGlyphs" stroke="#111" stroke-width="0.26">290 m</text>
<text x="620.0" y="359.7" font-family="'Liberation Sans', sans-serif" font-size="9.5" font-weight="bold" font-style="normal" fill="#111" text-anchor="start" textLength="14.0" lengthAdjust="spacingAndGlyphs" stroke="#111" stroke-width="0.22">159</text>
<text transform="translate(641.1,318.9) rotate(-90)" font-family="'Liberation Sans', sans-serif" font-size="8.5" font-weight="normal" font-style="normal" fill="#262626" text-anchor="start" textLength="21.5" lengthAdjust="spacingAndGlyphs" stroke="#262626" stroke-width="0.26">209 m</text>
<text transform="translate(646.1,280.3) rotate(-90)" font-family="'Liberation Sans', sans-serif" font-size="10.6" font-weight="bold" font-style="italic" fill="#1a1a1a" text-anchor="start" textLength="49.5" lengthAdjust="spacingAndGlyphs" stroke="#1a1a1a" stroke-width="0.1">Cintegabelle</text>
<text transform="translate(646.1,229.4) rotate(-90)" font-family="'Liberation Sans', sans-serif" font-size="10.6" font-weight="bold" font-style="italic" fill="#1a1a1a" text-anchor="start" textLength="2.4" lengthAdjust="spacingAndGlyphs" stroke="#1a1a1a" stroke-width="0.1">-</text>
<text transform="translate(646.1,224.8) rotate(-90)" font-family="'Liberation Sans', sans-serif" font-size="10.6" font-weight="bold" font-style="italic" fill="#1a1a1a" text-anchor="start" textLength="25.0" lengthAdjust="spacingAndGlyphs" stroke="#1a1a1a" stroke-width="0.1">Entrée</text>
<text transform="translate(646.1,195.0) rotate(-90)" font-family="'Liberation Sans', sans-serif" font-size="10.6" font-weight="bold" font-style="italic" fill="#1a1a1a" text-anchor="start" textLength="24.6" lengthAdjust="spacingAndGlyphs" stroke="#1a1a1a" stroke-width="0.1">Circuit</text>
<text x="636.0" y="359.7" font-family="'Liberation Sans', sans-serif" font-size="9.5" font-weight="normal" font-style="normal" fill="#222" text-anchor="start" textLength="18.0" lengthAdjust="spacingAndGlyphs" stroke="#222" stroke-width="0.22">161,4</text>
<text transform="translate(670.7,325.3) rotate(-90)" font-family="'Liberation Sans', sans-serif" font-size="8.5" font-weight="bold" font-style="normal" fill="#111" text-anchor="start" textLength="21.5" lengthAdjust="spacingAndGlyphs" stroke="#111" stroke-width="0.26">186 m</text>
<text x="661.0" y="359.7" font-family="'Liberation Sans', sans-serif" font-size="9.5" font-weight="bold" font-style="normal" fill="#111" text-anchor="start" textLength="19.3" lengthAdjust="spacingAndGlyphs" stroke="#111" stroke-width="0.22">170,5</text>
<text transform="translate(708.9,319.0) rotate(-90)" font-family="'Liberation Sans', sans-serif" font-size="8.5" font-weight="normal" font-style="normal" fill="#262626" text-anchor="start" textLength="21.5" lengthAdjust="spacingAndGlyphs" stroke="#262626" stroke-width="0.26">209 m</text>
<text transform="translate(714.1,272.8) rotate(-90)" font-family="'Liberation Sans', sans-serif" font-size="11" font-weight="normal" font-style="italic" fill="#363636" text-anchor="start" textLength="43.8" lengthAdjust="spacingAndGlyphs" stroke="#363636" stroke-width="0.12">Cintegabelle</text>
<text x="701.0" y="359.7" font-family="'Liberation Sans', sans-serif" font-size="9.5" font-weight="normal" font-style="normal" fill="#222" text-anchor="start" textLength="19.4" lengthAdjust="spacingAndGlyphs" stroke="#222" stroke-width="0.22">179,6</text>
<polyline points="37.0,25.4 12.8,25.4 12.8,40.0" fill="none" stroke="#2b2b2b" stroke-width="1.0"/>
<polyline points="13.0,178.5 13.0,395.7 28.0,395.7" fill="none" stroke="#2b2b2b" stroke-width="1.1"/>
<polyline points="715.5,25.4 738.5,25.4 738.5,54.4" fill="none" stroke="#2b2b2b" stroke-width="1.0"/>
<polyline points="738.5,227.5 738.5,394.5 716.4,394.5" fill="none" stroke="#2b2b2b" stroke-width="1.1"/>
<text transform="translate(17.2,172.5) rotate(-90)" font-family="'Liberation Sans', sans-serif" font-size="14.6" font-style="italic" fill="#222" stroke="#222" stroke-width="0.25" textLength="32.5" lengthAdjust="spacingAndGlyphs">1658 m</text>
<text transform="translate(17.2,136.5) rotate(-90)" font-family="'Liberation Sans', sans-serif" font-size="14.6" fill="#222" stroke="#222" stroke-width="0.25" textLength="13.6" lengthAdjust="spacingAndGlyphs">Av</text>
<text transform="translate(17.2,119.0) rotate(-90)" font-family="'Liberation Sans', sans-serif" font-size="14.6" fill="#222" stroke="#222" stroke-width="0.25" textLength="13.2" lengthAdjust="spacingAndGlyphs">de</text>
<text transform="translate(17.2,102.2) rotate(-90)" font-family="'Liberation Sans', sans-serif" font-size="14.6" fill="#222" stroke="#222" stroke-width="0.25" textLength="59.8" lengthAdjust="spacingAndGlyphs">Mont-Louis</text>
<text transform="translate(742.6,222.5) rotate(-90)" font-family="'Liberation Sans', sans-serif" font-size="14.6" font-style="italic" fill="#222" stroke="#222" stroke-width="0.25" textLength="25.5" lengthAdjust="spacingAndGlyphs">186 m</text>
<text transform="translate(742.6,186.4) rotate(-90)" font-family="'Liberation Sans', sans-serif" font-size="14.6" fill="#222" stroke="#222" stroke-width="0.25" textLength="29.0" lengthAdjust="spacingAndGlyphs">D820</text>
<text transform="translate(742.6,155.8) rotate(-90)" font-family="'Liberation Sans', sans-serif" font-size="14.6" fill="#222" stroke="#222" stroke-width="0.25" textLength="4" lengthAdjust="spacingAndGlyphs">-</text>
<text transform="translate(742.6,149.0) rotate(-90)" font-family="'Liberation Sans', sans-serif" font-size="14.6" fill="#222" stroke="#222" stroke-width="0.25" textLength="31.6" lengthAdjust="spacingAndGlyphs">Route</text>
<text transform="translate(742.6,113.8) rotate(-90)" font-family="'Liberation Sans', sans-serif" font-size="14.6" fill="#222" stroke="#222" stroke-width="0.25" textLength="54.4" lengthAdjust="spacingAndGlyphs">d’Espagne</text>
<text x="74.9" y="35.4" font-family="'Liberation Sans', sans-serif" font-size="28.2" font-weight="bold" font-style="normal" fill="#111" text-anchor="start" textLength="134.2" lengthAdjust="spacingAndGlyphs" stroke="#111" stroke-width="0.75">LES ANGLES</text>
<text x="566.3" y="35.5" font-family="'Liberation Sans', sans-serif" font-size="28.2" font-weight="bold" font-style="normal" fill="#111" text-anchor="start" textLength="109.0" lengthAdjust="spacingAndGlyphs" stroke="#111" stroke-width="0.75">AUTERIVE</text>
<text x="31.9" y="396.5" font-family="'Liberation Sans', sans-serif" font-size="18.6" font-weight="bold" font-style="normal" fill="#111" text-anchor="start" textLength="7.2" lengthAdjust="spacingAndGlyphs" stroke="#111" stroke-width="0.6">0</text>
<text x="641.4" y="395.0" font-family="'Liberation Sans', sans-serif" font-size="18.6" font-weight="bold" font-style="normal" fill="#111" text-anchor="start" textLength="71.6" lengthAdjust="spacingAndGlyphs" stroke="#111" stroke-width="0.6">188,3 km</text>
<circle cx="52.5" cy="24.75" r="15.4" fill="#1b75bc"/>
<polygon points="43.7,13.8 43.7,35.7 65.0,24.7" fill="#ffffff"/>
<circle cx="700" cy="24.5" r="15.5" fill="#d01a20"/>
<clipPath id="cf"><circle cx="700" cy="24.5" r="13.2"/></clipPath>
<g clip-path="url(#cf)" fill="#ffffff">
<rect x="693.42" y="12.60" width="4.42" height="4.69"/>
<rect x="702.26" y="12.60" width="4.42" height="4.69"/>
<rect x="689.00" y="17.29" width="4.42" height="4.69"/>
<rect x="697.84" y="17.29" width="4.42" height="4.69"/>
<rect x="706.68" y="17.29" width="4.42" height="4.69"/>
<rect x="693.42" y="21.97" width="4.42" height="4.69"/>
<rect x="702.26" y="21.97" width="4.42" height="4.69"/>
<rect x="689.00" y="26.66" width="4.42" height="4.69"/>
<rect x="697.84" y="26.66" width="4.42" height="4.69"/>
<rect x="706.68" y="26.66" width="4.42" height="4.69"/>
<rect x="693.42" y="31.34" width="4.42" height="4.69"/>
<rect x="702.26" y="31.34" width="4.42" height="4.69"/>
</g>
<circle cx="43.75" cy="60.3" r="12.5" fill="#d1151c"/>
<text x="43.75" y="65.6" font-family="'Liberation Sans', sans-serif" font-size="14.5" font-weight="bold" font-style="italic" fill="#fff" text-anchor="middle" textLength="20" lengthAdjust="spacingAndGlyphs" stroke="#fff" stroke-width="0.6" stroke-linejoin="miter">KmO</text>
<circle cx="158" cy="57.7" r="12.5" fill="#1b75bc"/>
<text x="158" y="65.10000000000001" font-family="'Liberation Sans', sans-serif" font-size="20.5" font-weight="bold" font-style="italic" fill="#fff" text-anchor="middle" textLength="10.5" lengthAdjust="spacingAndGlyphs" stroke="#fff" stroke-width="0.8" stroke-linejoin="miter">2</text>
<circle cx="231.2" cy="86.2" r="12.5" fill="#1b75bc"/>
<text x="231.2" y="93.60000000000001" font-family="'Liberation Sans', sans-serif" font-size="20.5" font-weight="bold" font-style="italic" fill="#fff" text-anchor="middle" textLength="10.5" lengthAdjust="spacingAndGlyphs" stroke="#fff" stroke-width="0.8" stroke-linejoin="miter">3</text>
<circle cx="322.5" cy="143" r="12.5" fill="#4da22f"/>
<text x="322.5" y="152.0" font-family="'Liberation Sans', sans-serif" font-size="24.5" font-weight="bold" font-style="italic" fill="#fff" text-anchor="middle" textLength="12.2" lengthAdjust="spacingAndGlyphs" stroke="#fff" stroke-width="1.0" stroke-linejoin="miter">S</text>
<circle cx="630.3" cy="68.0" r="12.5" fill="#1b75bc"/>
<text x="630.3" y="75.4" font-family="'Liberation Sans', sans-serif" font-size="20.5" font-weight="bold" font-style="italic" fill="#fff" text-anchor="middle" textLength="10.5" lengthAdjust="spacingAndGlyphs" stroke="#fff" stroke-width="0.8" stroke-linejoin="miter">3</text>
<circle cx="689.2" cy="153.3" r="12.5" fill="#4da22f"/>
<text x="689.2" y="162.3" font-family="'Liberation Sans', sans-serif" font-size="24.5" font-weight="bold" font-style="italic" fill="#fff" text-anchor="middle" textLength="12.2" lengthAdjust="spacingAndGlyphs" stroke="#fff" stroke-width="1.0" stroke-linejoin="miter">S</text>
<text x="21.4" y="83.0" font-family="'Liberation Sans', sans-serif" font-size="10.8" font-weight="bold" font-style="italic" fill="#1a1a1a" text-anchor="start" textLength="44.0" lengthAdjust="spacingAndGlyphs" stroke="#1a1a1a" stroke-width="0.3">Matemale</text>
<text x="107.5" y="84.2" font-family="'Liberation Sans', sans-serif" font-size="13.5" font-weight="bold" font-style="normal" fill="#111" text-anchor="start" textLength="100" lengthAdjust="spacingAndGlyphs" stroke="#111" stroke-width="0.25">COL NOTRE-DAME</text>
<text x="125.0" y="96.7" font-family="'Liberation Sans', sans-serif" font-size="10.5" font-weight="normal" font-style="italic" fill="#444" text-anchor="start" textLength="65.5" lengthAdjust="spacingAndGlyphs">(6,9 km à 5,7 %)</text>
<text x="188.8" y="113.0" font-family="'Liberation Sans', sans-serif" font-size="13.5" font-weight="bold" font-style="normal" fill="#111" text-anchor="start" textLength="85.7" lengthAdjust="spacingAndGlyphs" stroke="#111" stroke-width="0.25">CÔTE D’ESPEZEL</text>
<text x="205.5" y="125.0" font-family="'Liberation Sans', sans-serif" font-size="10.5" font-weight="normal" font-style="italic" fill="#444" text-anchor="start" textLength="50.7" lengthAdjust="spacingAndGlyphs">(3 km à 5 %)</text>
<text x="291.0" y="170.6" font-family="'Liberation Sans', sans-serif" font-size="13.5" font-weight="bold" font-style="normal" fill="#111" text-anchor="start" textLength="62.8" lengthAdjust="spacingAndGlyphs" stroke="#111" stroke-width="0.25">LAVELANET</text>
<text x="564.4" y="93.7" font-family="'Liberation Sans', sans-serif" font-size="13.5" font-weight="bold" font-style="normal" fill="#111" text-anchor="start" textLength="133.5" lengthAdjust="spacingAndGlyphs" stroke="#111" stroke-width="0.25">LES TALUS DE NAILLOUX</text>
<text x="585.2" y="108.5" font-family="'Liberation Sans', sans-serif" font-size="13.5" font-weight="bold" font-style="normal" fill="#111" text-anchor="start" textLength="91.3" lengthAdjust="spacingAndGlyphs" stroke="#111" stroke-width="0.25">À CINTEGABELLE</text>
<text x="597.5" y="121.9" font-family="'Liberation Sans', sans-serif" font-size="10.5" font-weight="normal" font-style="italic" fill="#444" text-anchor="start" textLength="66.5" lengthAdjust="spacingAndGlyphs">(1,5 km à 4,3 %)</text>
<text x="662.7" y="181.0" font-family="'Liberation Sans', sans-serif" font-size="13.5" font-weight="bold" font-style="normal" fill="#111" text-anchor="start" textLength="52.5" lengthAdjust="spacingAndGlyphs" stroke="#111" stroke-width="0.25">AUTERIVE</text>
<text x="667.5" y="194.3" font-family="'Liberation Sans', sans-serif" font-size="10.5" font-style="italic" fill="#444" textLength="45" lengthAdjust="spacingAndGlyphs">1<tspan font-size="6.5" dy="-3.2">er</tspan><tspan dy="3.2"> passage</tspan></text>
<polyline points="13.0,379.3 30.4,379.3" fill="none" stroke="#8a8a8a" stroke-width="0.9"/>
<text x="34.0" y="379.4" font-family="'Liberation Sans', sans-serif" font-size="9.2" font-weight="normal" font-style="normal" fill="#4a4a4a" text-anchor="start" textLength="35.6" lengthAdjust="spacingAndGlyphs">P.-O. [66]</text>
<polyline points="75.6,365.5 75.6,393.3 80.8,393.3" fill="none" stroke="#8a8a8a" stroke-width="0.9"/>
<text x="84.5" y="393.5" font-family="'Liberation Sans', sans-serif" font-size="9.2" font-weight="normal" font-style="normal" fill="#4a4a4a" text-anchor="start" textLength="14.6" lengthAdjust="spacingAndGlyphs">[09]</text>
<polyline points="101.3,365.5 101.3,377.9 105.8,377.9" fill="none" stroke="#8a8a8a" stroke-width="0.9"/>
<text x="109.6" y="378.2" font-family="'Liberation Sans', sans-serif" font-size="9.2" font-weight="normal" font-style="normal" fill="#4a4a4a" text-anchor="start" textLength="14.4" lengthAdjust="spacingAndGlyphs">[11]</text>
<polyline points="127.7,365.5 127.7,392.6 132.0,392.6" fill="none" stroke="#8a8a8a" stroke-width="0.9"/>
<text x="135.8" y="393.5" font-family="'Liberation Sans', sans-serif" font-size="9.2" font-weight="normal" font-style="normal" fill="#4a4a4a" text-anchor="start" textLength="41.8" lengthAdjust="spacingAndGlyphs">Ariège [09]</text>
<polyline points="136.0,365.5 136.0,377.9 140.3,377.9" fill="none" stroke="#8a8a8a" stroke-width="0.9"/>
<text x="144.0" y="378.2" font-family="'Liberation Sans', sans-serif" font-size="9.2" font-weight="normal" font-style="normal" fill="#4a4a4a" text-anchor="start" textLength="37.0" lengthAdjust="spacingAndGlyphs">Aude [11]</text>
<polyline points="260.2,365.5 260.2,378.0 265.7,378.0" fill="none" stroke="#8a8a8a" stroke-width="0.9"/>
<text x="268.7" y="378.0" font-family="'Liberation Sans', sans-serif" font-size="9.2" font-weight="normal" font-style="normal" fill="#4a4a4a" text-anchor="start" textLength="42.0" lengthAdjust="spacingAndGlyphs">Ariège [09]</text>
<polyline points="482.1,365.5 482.1,378.0 486.3,378.0" fill="none" stroke="#8a8a8a" stroke-width="0.9"/>
<text x="489.9" y="378.0" font-family="'Liberation Sans', sans-serif" font-size="9.2" font-weight="normal" font-style="normal" fill="#4a4a4a" text-anchor="start" textLength="37.8" lengthAdjust="spacingAndGlyphs">Aude [11]</text>
<polyline points="537.3,365.5 537.3,378.0 543.0,378.0" fill="none" stroke="#8a8a8a" stroke-width="0.9"/>
<text x="546.5" y="378.0" font-family="'Liberation Sans', sans-serif" font-size="9.2" font-weight="normal" font-style="normal" fill="#4a4a4a" text-anchor="start" textLength="76.8" lengthAdjust="spacingAndGlyphs">Haute-Garonne [31]</text>
</svg>
</body>
</html>
